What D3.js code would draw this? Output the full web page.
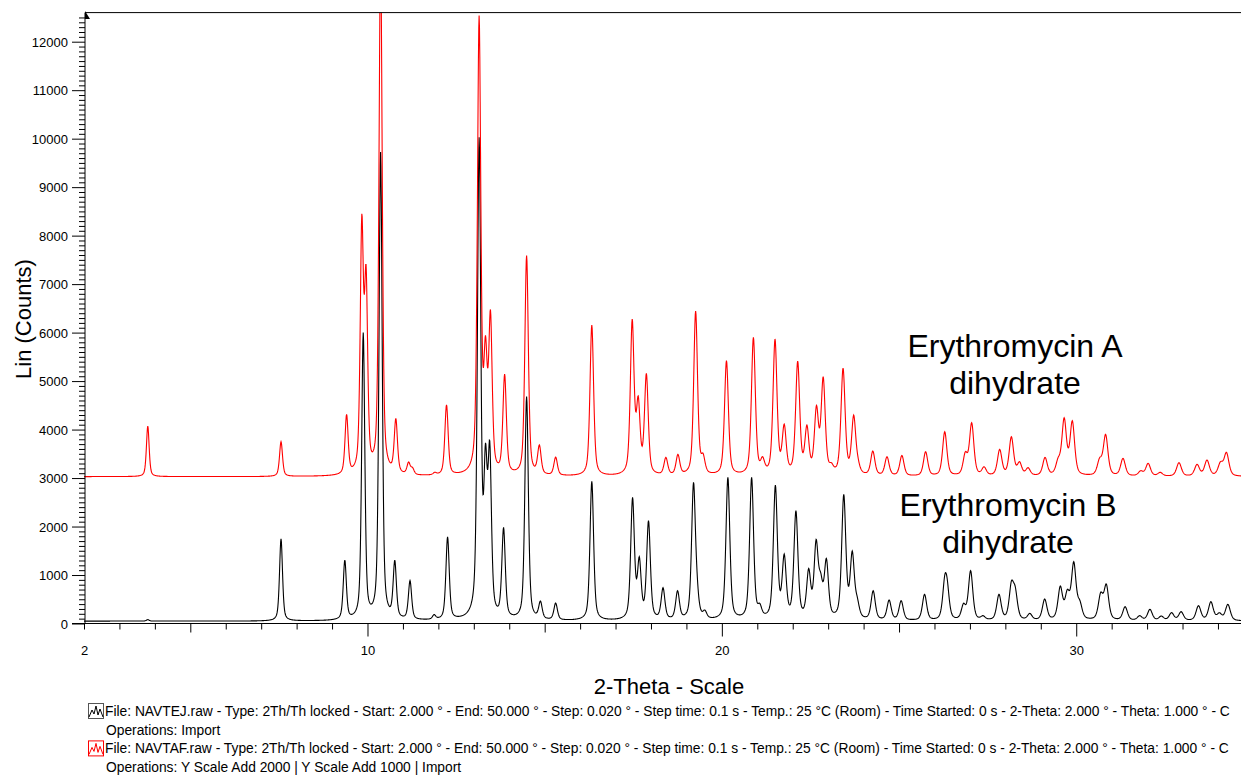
<!DOCTYPE html>
<meta charset="utf-8">
<style>
    body { margin: 0; background: #fff; }
    text { font-family: "Liberation Sans", Arial, sans-serif; fill: #000; }
    .tick text { font-size: 13px; }
    .legend { font-size: 13.8px; }
    .axis-title { font-size: 22px; }
    .note { font-size: 32px; }
</style>
<body>
<svg id="chart" width="1241" height="776"></svg>
<script src="https://d3js.org/d3.v7.min.js"></script>
<script>
// peak tables (2-theta in degrees, apex counts)
var thetaB = [3.80, 7.56, 9.36, 9.88, 10.37, 10.77, 11.20, 11.88, 12.26, 13.15, 13.33, 13.45, 13.84, 14.49, 14.88, 15.31,
    16.33, 17.48, 17.67, 17.93, 18.34, 18.75, 19.20, 19.30, 19.52, 20.17, 20.84, 21.07, 21.51, 21.76, 22.09, 22.45,
    22.66, 22.79, 22.95, 23.44, 23.68, 23.82, 24.27, 24.72, 25.06, 25.72, 26.29, 26.36, 26.82, 27.02, 27.37, 27.82,
    28.17, 28.28, 28.69, 29.11, 29.55, 29.75, 29.93, 30.10, 30.69, 30.85, 31.38, 31.79, 32.08, 32.40, 32.69, 32.96,
    33.45, 33.80, 34.04, 34.28];
var countsB = [80, 1745, 1310, 6004, 9723, 1307, 885, 185, 1788, 10027, 3727, 3770, 1982, 4680, 464, 422,
    2932, 2603, 1379, 2121, 739, 677, 2912, 1069, 278, 3015, 3015, 416, 2857, 1434, 2327, 1137,
    1735, 1048, 1344, 2664, 1496, 553, 677, 485, 471, 602, 1000, 918, 416, 1090, 162, 602,
    877, 760, 210, 505, 773, 705, 1275, 485, 643, 815, 347, 162, 292, 155, 223, 244,
    368, 450, 223, 395];

// Erythromycin A, before the "Y Scale Add 2000 | Y Scale Add 1000" shift
var thetaA = [3.80, 7.56, 9.41, 9.84, 9.96, 10.37, 10.80, 11.16, 11.27, 11.90, 12.23, 13.15, 13.33, 13.47, 13.87, 14.49,
    14.85, 15.31, 16.33, 17.47, 17.64, 17.87, 18.42, 18.76, 19.26, 19.47, 20.13, 20.89, 21.15, 21.50, 21.76, 22.14,
    22.40, 22.67, 22.86, 23.09, 23.42, 23.72, 23.84, 24.26, 24.66, 25.08, 25.75, 26.29, 26.87, 27.05, 27.40, 27.84,
    28.17, 28.40, 28.64, 29.12, 29.49, 29.66, 29.89, 30.66, 30.83, 31.32, 31.82, 32.03, 32.37, 32.90, 33.41, 33.69,
    34.07, 34.24];
var countsA = [1074, 750, 1315, 5450, 4404, 10900, 1233, 331, 221, 120, 1512, 9540, 2945, 3477, 2144, 4590,
    685, 432, 3157, 3281, 1693, 2160, 427, 489, 3446, 510, 2421, 2903, 441, 2869, 1115, 2414,
    1094, 1499, 2090, 318, 2269, 1300, 441, 558, 441, 466, 543, 956, 543, 1142, 234, 592,
    853, 338, 214, 427, 427, 1245, 1183, 420, 901, 407, 152, 303, 118, 317, 283, 372,
    338, 530];
var offsetA = 2000 + 1000;
var baseB = 50, baseA = 30;

var xTickLabels = [2, 10, 20, 30];

var width = 1241, height = 776;
var svg = d3.select("#chart");

var x = d3.scaleLinear().domain([2, 34.65]).range([84, 1241]);
var y = d3.scaleLinear().domain([0, 12000]).range([623.5, 41.7]);
var yTop = 12.6;

// peak profile (pseudo-Voigt), width grows a bit with angle
function profile(dx, t) {
    var w = 0.082 + 0.0024 * t;
    var u = dx / w;
    if (Math.abs(dx) > 3) return 0;
    return 0.5 / (1 + 4 * u * u) + 0.5 * Math.exp(-4 * Math.LN2 * u * u);
}

// find amplitudes so that the curve passes through the read apex counts
function amplitudes(th, ct, base) {
    var a = ct.map(function(c) { return c - base; });
    for (var it = 0; it < 300; it++) {
        var f = th.map(function(t, i) {
            var s = base;
            th.forEach(function(t2, j) { s += a[j] * profile(t - t2, t2); });
            return s;
        });
        a = a.map(function(v, i) { return Math.max(0, v + 0.5 * (ct[i] - f[i])); });
    }
    return a;
}

function pattern(th, ct, base, shift) {
    var a = amplitudes(th, ct, base);
    return d3.range(2, 34.66, 0.01).map(function(t) {
        var s = base;
        th.forEach(function(t2, j) { s += a[j] * profile(t - t2, t2); });
        return [t, s + shift];
    });
}

var dataB = pattern(thetaB, countsB, baseB, 0);
var dataA = pattern(thetaA, countsA, baseA, offsetA);

svg.append("clipPath").attr("id", "plot")
    .append("rect").attr("x", 84).attr("y", yTop).attr("width", width - 84).attr("height", 623.5 - yTop);

var line = d3.line().x(function(d) { return x(d[0]); }).y(function(d) { return y(d[1]); });

svg.append("path").datum(dataB)
    .attr("clip-path", "url(#plot)")
    .attr("fill", "none").attr("stroke", "#000").attr("stroke-width", 1.1)
    .attr("d", line);

svg.append("path").datum(dataA)
    .attr("clip-path", "url(#plot)")
    .attr("fill", "none").attr("stroke", "#ff0000").attr("stroke-width", 1.1)
    .attr("d", line);

// frame
svg.append("line").attr("x1", 85).attr("x2", width).attr("y1", yTop).attr("y2", yTop)
    .attr("stroke", "#000").attr("stroke-width", 1);
svg.append("path").attr("d", "M85,11 L90,19 L85,19 Z").attr("fill", "#000");

// y axis
var yAxis = d3.axisLeft(y)
    .tickValues(d3.range(0, 12600, 100))
    .tickFormat(function(d) { return d % 1000 === 0 ? d : ""; })
    .tickSizeOuter(0);
var gy = svg.append("g").attr("transform", "translate(85,0)").call(yAxis);
gy.select(".domain").attr("d", "M0," + yTop + "V623.5").attr("stroke", "#000");
gy.selectAll(".tick line")
    .attr("x2", function(d) { return d % 1000 === 0 ? -13 : -6; })
    .attr("stroke", "#000");
gy.selectAll(".tick text").attr("x", -17).attr("dy", "0.35em");

// x axis
var xAxis = d3.axisBottom(x)
    .tickValues(d3.range(2, 35, 1))
    .tickFormat(function(d) { return xTickLabels.indexOf(d) >= 0 ? d : ""; })
    .tickSizeOuter(0);
var gx = svg.append("g").attr("transform", "translate(0,623.5)").call(xAxis);
gx.select(".domain").attr("d", "M72,0H" + width).attr("stroke", "#000");
gx.selectAll(".tick line")
    .attr("y2", function(d) { return d % 10 === 0 ? 13 : (d % 5 === 0 ? 9 : 6); })
    .attr("stroke", "#000");
gx.selectAll(".tick text").attr("y", 27).attr("dy", "0.35em");

// axis titles
svg.append("text").attr("class", "axis-title")
    .attr("transform", "translate(31,319) rotate(-90)")
    .attr("text-anchor", "middle").text("Lin (Counts)");
svg.append("text").attr("class", "axis-title")
    .attr("x", 669).attr("y", 694)
    .attr("text-anchor", "middle").text("2-Theta - Scale");

// sample names
var notes = [
    {t: "Erythromycin A", x: 1015, y: 357},
    {t: "dihydrate", x: 1015, y: 394},
    {t: "Erythromycin B", x: 1008, y: 516},
    {t: "dihydrate", x: 1008, y: 553}
];
svg.selectAll(".note").data(notes).enter().append("text")
    .attr("class", "note").attr("text-anchor", "middle")
    .attr("x", function(d) { return d.x; }).attr("y", function(d) { return d.y; })
    .text(function(d) { return d.t; });

// legend
var legendRows = [
    {file: "File: NAVTEJ.raw - Type: 2Th/Th locked - Start: 2.000 ° - End: 50.000 ° - Step: 0.020 ° - Step time: 0.1 s - Temp.: 25 °C (Room) - Time Started: 0 s - 2-Theta: 2.000 ° - Theta: 1.000 ° - C",
     ops: "Operations: Import", color: "#000", box: "#555"},
    {file: "File: NAVTAF.raw - Type: 2Th/Th locked - Start: 2.000 ° - End: 50.000 ° - Step: 0.020 ° - Step time: 0.1 s - Temp.: 25 °C (Room) - Time Started: 0 s - 2-Theta: 2.000 ° - Theta: 1.000 ° - C",
     ops: "Operations: Y Scale Add 2000 | Y Scale Add 1000 | Import", color: "#ff0000", box: "#ff0000"}
];
var lg = svg.selectAll(".lg").data(legendRows).enter().append("g")
    .attr("class", "lg")
    .attr("transform", function(d, i) { return "translate(0," + (i * 37.4) + ")"; });
lg.append("rect").attr("x", 88.5).attr("y", 703.5).attr("width", 15).attr("height", 15)
    .attr("fill", "#fff").attr("stroke", function(d) { return d.box; });
lg.append("path").attr("d", "M89,717 L92,710 L94,714 L96,706 L98,715 L100,709 L103,717")
    .attr("fill", "none").attr("stroke", function(d) { return d.color; }).attr("stroke-width", 1);
lg.append("text").attr("class", "legend").attr("x", 105).attr("y", 716)
    .text(function(d) { return d.file; });
lg.append("text").attr("class", "legend").attr("x", 106).attr("y", 734.7)
    .text(function(d) { return d.ops; });
</script>
</body>
